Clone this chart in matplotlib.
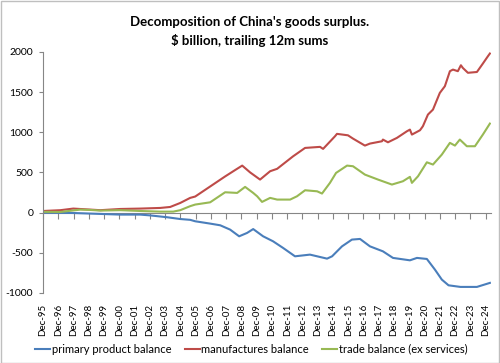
import matplotlib
matplotlib.use("Agg")
import matplotlib.pyplot as plt
from matplotlib.patches import Rectangle

# ---- data (decimal years, $bn trailing 12m sums) ----
primary_t = [1995.92, 1997.90, 2000.98, 2002.29, 2002.94, 2004.06, 2004.91, 2005.56, 2005.89,
             2006.87, 2007.53, 2008.18, 2008.77, 2009.29, 2009.69, 2010.34, 2010.99, 2011.65,
             2012.43, 2013.41, 2014.53, 2014.86, 2015.51, 2016.16, 2016.69, 2017.34, 2018.19,
             2018.85, 2019.96, 2020.42, 2021.07, 2021.60, 2022.05, 2022.49, 2023.27, 2024.35,
             2025.20]
primary_v = [0, -5, -25, -25, -35, -58, -80, -90, -108,
             -137, -158, -212, -295, -253, -205, -295, -357, -440,
             -544, -523, -573, -544, -420, -336, -328, -420, -482,
             -564, -594, -564, -577, -710, -834, -905, -925, -925,
             -875]

manuf_t = [1995.92, 1997.06, 1997.90, 1999.67, 2000.98, 2002.29, 2003.60, 2004.25, 2004.91,
           2005.56, 2005.89, 2006.87, 2007.85, 2008.51, 2008.97, 2009.49, 2010.14, 2010.80,
           2011.26, 2012.30, 2013.09, 2014.07, 2014.27, 2015.05, 2015.18, 2015.90, 2016.23,
           2017.01, 2017.34, 2018.13, 2018.19, 2018.52, 2019.11, 2019.76, 2019.96, 2020.09,
           2020.62, 2020.81, 2021.14, 2021.47, 2021.92, 2022.25, 2022.58, 2022.78, 2023.10,
           2023.30, 2023.43, 2023.76, 2024.35, 2024.74, 2025.07, 2025.20]
manuf_v = [20, 30, 50, 30, 45, 50, 58, 70, 120,
           183, 200, 325, 450, 530, 585, 500, 411, 515,
           545, 700, 805, 818, 793, 950, 980, 962, 921,
           834, 859, 888, 909, 875, 930, 1012, 1033, 971,
           1025, 1075, 1220, 1282, 1490, 1573, 1760, 1780, 1760,
           1834, 1800, 1740, 1750, 1855, 1946, 1980]

trade_t = [1995.92, 1997.06, 1998.36, 1999.02, 1999.67, 2000.98, 2002.29, 2003.60, 2004.45,
           2004.91, 2005.56, 2005.89, 2006.87, 2007.85, 2008.64, 2009.16, 2009.69, 2009.95,
           2010.27, 2010.80, 2011.26, 2012.11, 2012.56, 2013.09, 2013.88, 2014.20, 2014.72,
           2015.12, 2015.84, 2016.23, 2017.01, 2017.87, 2018.78, 2019.50, 2019.96, 2020.09,
           2020.49, 2021.07, 2021.47, 2022.05, 2022.58, 2022.91, 2023.23, 2023.69, 2024.22,
           2024.74, 2025.20]
trade_v = [10, 8, 37, 33, 25, 30, 20, 12, 12,
           30, 80, 100, 128, 253, 245, 320, 245, 203,
           133, 183, 162, 162, 203, 278, 265, 237, 370,
           494, 585, 577, 473, 411, 349, 390, 445, 370,
           452, 626, 598, 722, 868, 834, 909, 826, 826,
           971, 1108]

series_names = ["primary product balance", "manufactures balance", "trade balance (ex services)"]
series_colors = ["#4a7ebb", "#be4b48", "#98b954"]

tick_years = [1995.917 + k for k in range(30)]
tick_labels = [f"Dec-{(95 + k) % 100:02d}" for k in range(30)]
y_ticks = [-1000, -500, 0, 500, 1000, 1500, 2000]

title = "Decomposition of China's goods surplus.\n$ billion, trailing 12m sums"

# ---- drawing ----
plt.rcParams['font.family'] = ['Lato', 'DejaVu Sans']
fig = plt.figure(figsize=(5.0, 3.63), dpi=100)
fig.patch.set_facecolor('white')
fig.add_artist(Rectangle((0.001, 0.001), 0.997, 0.996, transform=fig.transFigure,
                         fill=False, edgecolor='#bfbfbf', linewidth=1.0))

ax = fig.add_axes([0.086, 0.193, 0.895, 0.664])
axis_col = '#868686'

for t, v, name, col in zip([primary_t, manuf_t, trade_t], [primary_v, manuf_v, trade_v],
                           series_names, series_colors):
    ax.plot(t, v, color=col, lw=1.5, label=name, solid_joinstyle='round')

ax.set_ylim(-1000, 2000)
ax.set_xlim(1995.917, 2025.24)
ax.set_yticks(y_ticks)
ax.set_yticklabels([str(v) for v in y_ticks], fontsize=7.5)
ax.set_xticks(tick_years)
ax.set_xticklabels(tick_labels, rotation=90, fontsize=7)
ax.tick_params(axis='x', length=0, pad=8)
ax.tick_params(axis='y', direction='out', length=3, color=axis_col, pad=4)

for s in ['top', 'right', 'bottom']:
    ax.spines[s].set_visible(False)
ax.spines['left'].set_color(axis_col)

sec = ax.secondary_xaxis(1/3)
sec.set_xticks(tick_years)
sec.set_xticklabels([])
sec.tick_params(direction='out', length=4, color=axis_col)
sec.spines['bottom'].set_color(axis_col)

fig.text(0.5, 0.955, title, ha='center', va='top', fontsize=9.5, fontweight='bold',
         linespacing=1.5)

fig.legend(loc='center', bbox_to_anchor=(0.503, 0.038), ncol=3, frameon=False,
           fontsize=8, handlelength=1.35, handletextpad=0.15, columnspacing=1.2)

fig.savefig('out.png', dpi=100)
